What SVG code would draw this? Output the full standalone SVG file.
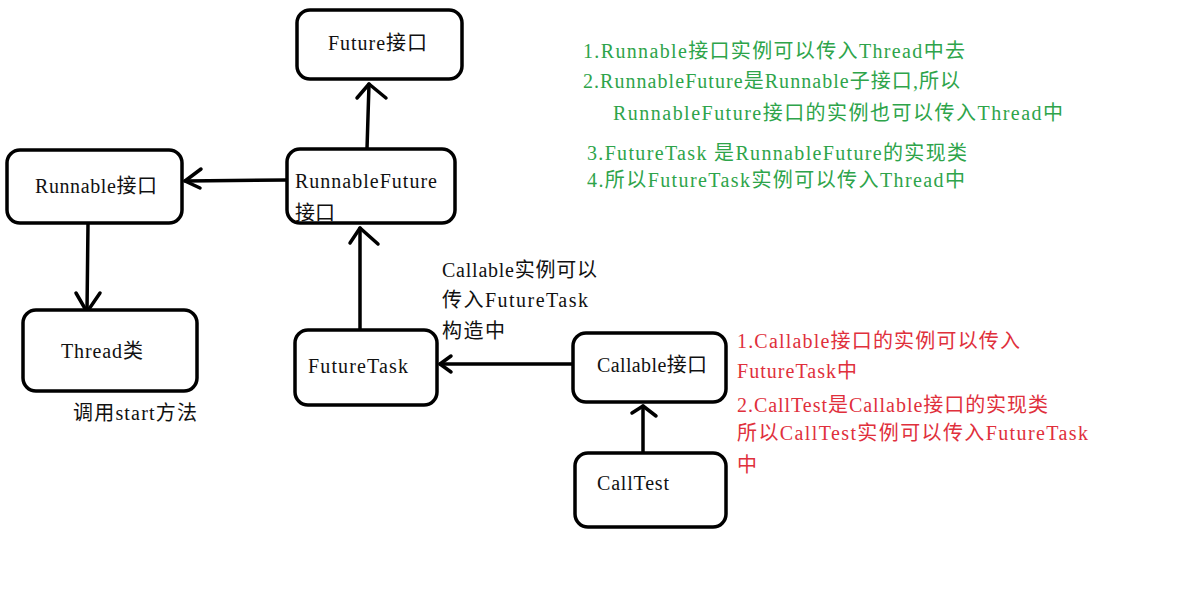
<svg xmlns="http://www.w3.org/2000/svg" width="1178" height="601" viewBox="0 0 1178 601">
<style>
.box{fill:#fff;stroke:#000;stroke-width:3.5}
.ln{fill:none;stroke:#000;stroke-width:3.5;stroke-linecap:round;stroke-linejoin:round}
text{font-family:"Liberation Serif","Noto Sans CJK SC",serif;font-size:20px;fill:#111}
.g{fill:#2ea44a}
.r{fill:#e0303c}
</style>
<rect width="1178" height="601" fill="#fff"/>
<g id="connectors">
<line class="ln" x1="287" y1="180" x2="185" y2="181"/>
<polyline class="ln" points="201,169 185,181 200,188"/>
<line class="ln" x1="367" y1="149" x2="369" y2="84"/>
<polyline class="ln" points="357,98 369,84 386,98"/>
<line class="ln" x1="88" y1="224" x2="87" y2="312"/>
<polyline class="ln" points="76,293 87,312 100,293"/>
<line class="ln" x1="360" y1="330" x2="360" y2="228"/>
<polyline class="ln" points="350,243 360,228 378,244"/>
<line class="ln" x1="572" y1="364" x2="440" y2="364"/>
<polyline class="ln" points="451,356 440,364 451,372"/>
<line class="ln" x1="643" y1="453" x2="643" y2="406"/>
<polyline class="ln" points="632,413 643,406 656,416"/>
</g>
<g id="future">
<rect class="box" x="297" y="10" width="165" height="69" rx="13"/>
<text x="328" y="50" textLength="99" lengthAdjust="spacing">Future接口</text>
</g>
<g id="runnablefuture">
<rect class="box" x="287" y="149" width="168" height="74" rx="13"/>
<text x="295" y="188" textLength="142" lengthAdjust="spacing">RunnableFuture</text>
<text x="295" y="220">接口</text>
</g>
<g id="runnable">
<rect class="box" x="7" y="150" width="175" height="73" rx="13"/>
<text x="35" y="193" textLength="122" lengthAdjust="spacing">Runnable接口</text>
</g>
<g id="thread">
<rect class="box" x="23" y="310" width="174" height="81" rx="13"/>
<text x="61" y="358" textLength="82" lengthAdjust="spacing">Thread类</text>
<text x="73" y="420" textLength="124" lengthAdjust="spacing">调用start方法</text>
</g>
<g id="futuretask">
<rect class="box" x="295" y="330" width="142" height="75" rx="13"/>
<text x="308" y="373" textLength="100" lengthAdjust="spacing">FutureTask</text>
</g>
<g id="callable-note">
<text x="442" y="277" textLength="155" lengthAdjust="spacing">Callable实例可以</text>
<text x="442" y="307" textLength="146" lengthAdjust="spacing">传入FutureTask</text>
<text x="442" y="338" textLength="63" lengthAdjust="spacing">构造中</text>
</g>
<g id="callable">
<rect class="box" x="573" y="333" width="153" height="69" rx="13"/>
<text x="597" y="372" textLength="110" lengthAdjust="spacing">Callable接口</text>
</g>
<g id="calltest">
<rect class="box" x="575" y="453" width="151" height="74" rx="13"/>
<text x="597" y="490" textLength="72" lengthAdjust="spacing">CallTest</text>
</g>
<g id="green-notes">
<text class="g" x="583" y="58" textLength="382" lengthAdjust="spacing">1.Runnable接口实例可以传入Thread中去</text>
<text class="g" x="583" y="88" textLength="377" lengthAdjust="spacing">2.RunnableFuture是Runnable子接口,所以</text>
<text class="g" x="613" y="120" textLength="450" lengthAdjust="spacing">RunnableFuture接口的实例也可以传入Thread中</text>
<text class="g" x="587" y="160" textLength="380" lengthAdjust="spacing">3.FutureTask  是RunnableFuture的实现类</text>
<text class="g" x="587" y="187" textLength="378" lengthAdjust="spacing">4.所以FutureTask实例可以传入Thread中</text>
</g>
<g id="red-notes">
<text class="r" x="737" y="348" textLength="283" lengthAdjust="spacing">1.Callable接口的实例可以传入</text>
<text class="r" x="737" y="378" textLength="120" lengthAdjust="spacing">FutureTask中</text>
<text class="r" x="737" y="412" textLength="311" lengthAdjust="spacing">2.CallTest是Callable接口的实现类</text>
<text class="r" x="737" y="440" textLength="351" lengthAdjust="spacing">所以CallTest实例可以传入FutureTask</text>
<text class="r" x="737" y="472">中</text>
</g>
</svg>
